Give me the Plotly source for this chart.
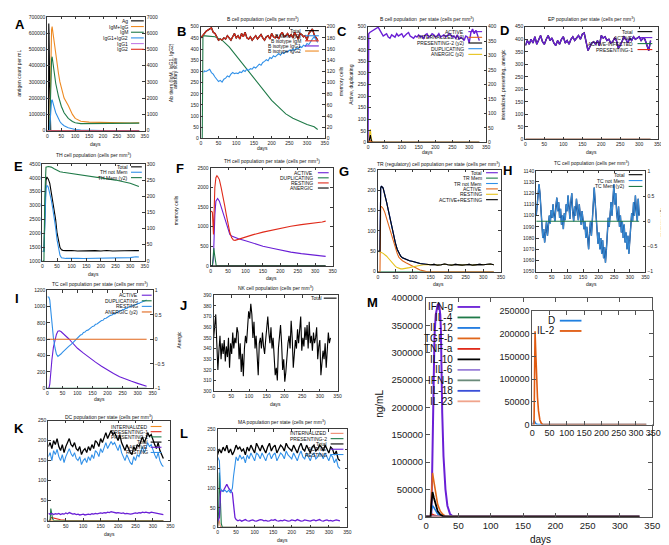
import plotly.graph_objects as go

W, H = 669, 545
FONT = "Liberation Sans, Arial, Helvetica, sans-serif"
FRAME = "#3a3a3a"

BLACK = "#000000"; PURPLE = "#6a1fd6"; GREEN = "#1f7a48"; BLUE = "#3090e8"
RED = "#e02a1a"; ORANGE = "#ee8a22"; YELLOW = "#e6c21a"; VIOLET = "#c27be6"
DORANGE = "#e0661a"


def grid(start, step, vals):
    return [start + step * i for i in range(len(vals))]

# ---------------- DATA ----------------
# A  antigen / antibodies
A_ag_days = [0, 4, 5, 6, 8, 10, 12, 330]
A_ag = [0, 0, 660000, 600000, 300000, 60000, 0, 0]
A_ab_days = [0, 8, 10, 12, 15, 17, 20, 25, 30, 40, 45, 50, 60, 75, 90, 100, 120, 150, 200, 250, 300, 330]
A_igm_igg = [0, 0, 1500, 4500, 6200, 6400, 6000, 5200, 4500, 3500, 3000, 2600, 2000, 1550, 1000, 750, 580, 520, 490, 480, 470, 480]
A_igm = [0, 0, 1200, 3500, 4400, 4550, 4200, 3500, 2900, 2100, 1750, 1500, 1100, 750, 560, 480, 430, 440, 450, 450, 450, 460]
A_igg1_igg2 = [0, 0, 600, 1500, 1850, 1900, 1750, 1400, 1100, 700, 560, 450, 300, 180, 100, 70, 35, 12, 0, 0, 0, 0]
A_flat_days = [0, 330]
A_igg1 = [0, 0]
A_igg2 = [0, 0]

# B  B cell population
B_total = [450, 460, 475, 480, 485, 490, 495, 475, 470, 455, 440, 445, 440, 450, 445, 460, 450, 440, 455, 470,
           450, 460, 445, 470, 455, 475, 450, 445, 455, 440, 450, 460, 445, 455, 465, 450, 440, 455, 460, 445,
           470, 455, 450, 460, 445, 465, 475, 455, 460, 470, 455, 465, 450, 475, 460, 445, 470, 465, 455, 460,
           440, 470, 480, 490, 465, 450, 440]
B_mem_days = [8] + grid(10, 5, [0] * 65)
B_mem = [118, 121, 120, 122, 124, 118, 115, 110, 106, 102, 104, 101, 106, 108, 112, 110, 115, 118, 116, 117,
         116, 119, 118, 122, 120, 124, 122, 125, 124, 128, 126, 130, 133, 131, 136, 138, 141, 139, 145, 143,
         148, 146, 150, 152, 149, 154, 152, 156, 155, 158, 157, 160, 158, 162, 160, 165, 163, 167, 165, 170,
         168, 174, 178, 182, 176, 172]
B_nonmem_days = [0, 4, 6, 10, 20, 40, 60, 80, 100, 120, 140, 160, 180, 200, 220, 240, 260, 280, 300, 320, 330]
B_nonmem = [0, 0, 460, 460, 458, 455, 440, 410, 370, 330, 290, 250, 210, 170, 140, 110, 90, 75, 62, 52, 40]
B_zero_days = [0, 330]
B_igg1 = [0, 0]
B_igg2 = [0, 0]

# C  B cell population per state
C_act_tail = [475, 480, 485, 490, 495, 498, 485, 475, 460, 465, 470, 455, 450, 465, 460, 455, 470, 460, 465, 470,
              455, 465, 470, 475, 460, 455, 450, 460, 455, 465, 455, 460, 450, 465, 470, 455, 460, 470, 465, 455,
              460, 470, 455, 460, 465, 455, 460, 470, 465, 455, 460, 450, 465, 445, 455, 450, 440, 460, 455, 430,
              475, 490, 470, 485, 460, 440]
C_act_days = [0, 2] + grid(5, 5, C_act_tail)
C_act = [0, 470] + C_act_tail
C_sp_days = [0, 3, 5, 7, 9, 12, 330]
C_internalized = [0, 0, 4, 6, 2, 0, 0]
C_presenting2 = [0, 0, 15, 25, 10, 0, 0]
C_duplicating = [0, 0, 10, 6, 2, 0, 0]
C_anergic = [0, 0, 35, 45, 20, 0, 0]

# D  EP population per state
D_active = [375, 395, 380, 400, 385, 410, 380, 395, 415, 390, 380, 400, 415, 395, 405, 385, 375, 395, 380, 400,
            410, 385, 395, 380, 400, 410, 395, 405, 415, 400, 420, 425, 390, 355, 370, 385, 390, 380, 395, 375,
            415, 405, 410, 395, 400, 385, 390, 405, 395, 365, 375, 390, 410, 400, 385, 405, 395, 410, 400, 405,
            410, 395, 405, 400, 380, 355, 395]
D_total = list(D_active)
D_zero_days = [0, 330]
D_infected = [0, 0]
D_presenting1 = [0, 0]

# E  TH cell population
E_days = [0, 5, 8, 10, 12, 15, 18, 20, 25, 30, 35, 40, 45, 50, 55, 60, 65, 70, 80, 90, 100, 120, 140, 160, 180,
          200, 220, 240, 260, 280, 300, 320, 330]
E_total = [1350, 1350, 2500, 3500, 3900, 4030, 4000, 3950, 3800, 3500, 3200, 2900, 2500, 2000, 1700, 1480, 1400,
           1380, 1370, 1360, 1375, 1360, 1370, 1355, 1370, 1360, 1375, 1360, 1370, 1365, 1370, 1375, 1370]
E_notmem = [1350, 1340, 2300, 3200, 3600, 3720, 3700, 3650, 3450, 3200, 2900, 2600, 2200, 1750, 1450, 1200, 1110,
            1095, 1090, 1095, 1085, 1090, 1085, 1090, 1085, 1090, 1095, 1100, 1105, 1110, 1120, 1150, 1140]
E_mem_days = [0, 5, 8, 10, 12, 20, 30, 40, 50, 60, 70, 100, 150, 200, 250, 300, 330]
E_mem = [0, 0, 200, 280, 290, 292, 290, 285, 280, 276, 274, 270, 265, 258, 250, 240, 230]

# F  TH cell population per state
F_act_days = [0, 5, 8, 10, 12, 15, 18, 20, 25, 30, 35, 40, 45, 50, 55, 60, 70, 80, 100, 120, 150, 180, 200, 230, 260, 300, 330]
F_active = [0, 0, 200, 800, 1300, 1650, 1720, 1720, 1650, 1500, 1350, 1200, 1050, 900, 800, 760, 720, 690, 640, 580,
            500, 440, 400, 350, 310, 270, 240]
F_rest_days = [0, 3, 5, 7, 8, 10, 12, 15, 18, 20, 25, 30, 35, 40, 45, 50, 55, 60, 65, 70, 80, 100, 120, 150, 180, 200,
               230, 260, 300, 320, 330]
F_resting = [1380, 1390, 1360, 900, 800, 1400, 2000, 2250, 2300, 2280, 2200, 2000, 1800, 1550, 1300, 1050, 850, 720,
             660, 650, 680, 730, 790, 860, 920, 960, 1010, 1050, 1090, 1120, 1140]
F_dup_days = [0, 5, 7, 9, 11, 13, 16, 330]
F_duplicating = [0, 0, 200, 450, 300, 100, 0, 0]
F_zero_days = [0, 330]
F_anergic = [0, 0]

# G  TR cell population per state
G_tail = [17, 18, 16, 17, 19, 17, 16, 18, 17, 16, 17, 18, 16, 17, 18, 17, 18, 19, 17]
G_head_days = [0, 6, 8, 10, 15, 20, 25, 30, 35, 40, 45, 50, 55, 60, 65, 70, 80, 90, 100, 110, 120, 130, 140]
G_days = G_head_days + grid(150, 10, G_tail)
G_act_rest = [50, 50, 205, 210, 205, 190, 170, 150, 128, 105, 85, 70, 55, 45, 38, 34, 30, 27, 25, 22, 20, 19, 18] + G_tail
G_total = list(G_act_rest)
G_resting = [50, 49, 48, 47, 45, 42, 38, 33, 28, 22, 17, 13, 10, 8, 7, 7, 8, 10, 12, 14, 16, 17, 18] + G_tail
G_act_days = [0, 6, 8, 10, 15, 20, 25, 30, 35, 40, 45, 50, 55, 60, 65, 70, 80, 90, 100, 110, 120, 130, 140, 330]
G_active = [0, 0, 160, 160, 155, 145, 130, 115, 100, 85, 70, 55, 45, 35, 30, 27, 22, 17, 12, 7, 4, 2, 0, 0]
G_zero_days = [0, 330]
G_trmem = [0, 0]

# H  TC cell population
H_notmem = [1100, 1112, 1118, 1128, 1120, 1105, 1092, 1080, 1088, 1076, 1085, 1095, 1082, 1090, 1100, 1093, 1105,
            1098, 1110, 1100, 1095, 1108, 1116, 1104, 1112, 1098, 1106, 1092, 1100, 1088, 1102, 1096, 1110, 1104,
            1118, 1108, 1097, 1112, 1120, 1103, 1095, 1108, 1100, 1115, 1105, 1096, 1110, 1100, 1092, 1104, 1098,
            1088, 1095, 1080, 1090, 1078, 1070, 1085, 1095, 1082, 1098, 1110, 1125, 1112, 1100, 1088, 1075, 1085,
            1070, 1080, 1066, 1078, 1062, 1072, 1058, 1070, 1085, 1098, 1090, 1105, 1112, 1100, 1118, 1128, 1110,
            1120, 1102, 1095, 1108, 1090, 1100, 1085, 1095, 1080, 1092, 1076, 1085, 1070, 1082, 1066, 1078, 1090,
            1102, 1095, 1112, 1100, 1118, 1105, 1095, 1115, 1100]
H_days = grid(0, 3, H_notmem)
H_total = list(H_notmem)
H_mem_days = [0, 330]
H_mem = [0, 0]

# I  TC cell population per state
I_act_days = [0, 5, 8, 10, 15, 20, 25, 30, 35, 40, 45, 50, 60, 70, 80, 90, 100, 120, 140, 160, 180, 200, 220, 240,
              260, 280, 300, 320, 330]
I_active = [0, 0, 50, 150, 350, 500, 600, 660, 700, 705, 695, 680, 650, 610, 570, 530, 490, 430, 370, 320, 270, 220,
            180, 140, 110, 85, 60, 40, 25]
I_rest_tail = [635, 652, 658, 683, 688, 708, 712, 730, 737, 758, 762, 784, 788, 805, 812, 830, 833, 855, 858, 874,
               882, 893, 898, 914, 912, 930, 932, 948, 946, 964, 962, 979, 982, 995, 998, 1010, 1012, 1024, 1026, 1038,
               1040, 1052, 1056, 1066, 1072, 1080]
I_rest_days = [0, 5, 8, 10, 15, 20, 25, 30, 35, 40, 45, 50, 55, 60, 70, 80, 90, 100] + grid(105, 5, I_rest_tail)
I_resting = [1120, 1115, 1080, 1000, 800, 620, 500, 420, 390, 400, 420, 440, 460, 480, 510, 540, 580, 620] + I_rest_tail
I_zero_days = [0, 330]
I_duplicating = [0, 0]
I_anergic = [0, 0]

# J  NK cell population
J_total = [350, 360, 372, 345, 320, 338, 352, 330, 345, 335, 348, 328, 342, 332, 350, 322, 345, 335, 355, 340, 350,
           345, 360, 355, 330, 345, 318, 335, 314, 340, 352, 345, 365, 375, 368, 382, 372, 350, 365, 340, 352, 338,
           315, 345, 350, 340, 355, 342, 335, 348, 360, 370, 355, 345, 360, 340, 350, 328, 315, 322, 310, 340, 355,
           362, 345, 320, 330, 309, 318, 335, 345, 352, 340, 366, 350, 322, 335, 348, 340, 358, 345, 362, 370, 338,
           350, 342, 360, 348, 362, 340, 365, 345, 352, 338, 355, 345, 350, 360, 330, 342, 348, 315, 325, 338, 330,
           345, 322, 338, 355, 345, 350]
J_days = grid(0, 3, J_total)

# K  DC population per state
K_total = [185, 195, 180, 200, 190, 205, 185, 175, 190, 170, 185, 195, 205, 190, 185, 195, 180, 175, 185, 165, 175,
           180, 170, 185, 175, 190, 180, 200, 195, 185, 205, 195, 210, 220, 205, 215, 225, 215, 220, 210, 200, 215,
           195, 185, 175, 190, 180, 170, 165, 185, 175, 190, 185, 200, 210, 195, 205, 220, 210, 215, 200, 190, 180,
           195, 175, 165, 155]
K_resting = [160, 170, 150, 175, 165, 178, 160, 150, 165, 145, 160, 170, 180, 168, 160, 170, 155, 150, 160, 140, 150,
             155, 145, 160, 150, 165, 155, 175, 170, 160, 180, 170, 185, 195, 180, 190, 198, 190, 195, 185, 175, 190,
             170, 160, 150, 165, 155, 145, 140, 160, 150, 165, 160, 175, 185, 170, 180, 195, 185, 190, 175, 165, 155,
             170, 150, 140, 135]
K_active = [18, 16, 18, 15, 17, 16, 18, 15, 17, 16, 19, 17, 20, 18, 16, 17, 15, 16, 14, 15, 16, 14, 15, 16, 15, 17,
            16, 18, 17, 18, 19, 18, 20, 19, 21, 20, 22, 21, 20, 19, 20, 19, 18, 19, 17, 18, 17, 16, 17, 18, 19, 18,
            20, 19, 21, 20, 21, 20, 19, 21, 20, 19, 18, 17, 16, 15, 15]
K_days = grid(0, 5, K_total)
K_int_days = [0, 4, 6, 8, 330]
K_internalized = [0, 0, 4, 0, 0]
K_p1_days = [0, 5, 8, 15, 25, 35, 45, 50, 330]
K_presenting1 = [0, 0, 8, 6, 4, 2, 1, 0, 0]
K_p2_days = [0, 5, 7, 9, 12, 15, 330]
K_presenting2 = [0, 0, 30, 15, 5, 0, 0]

# L  MA population per state
L_total = [185, 200, 190, 205, 195, 210, 190, 200, 185, 195, 210, 200, 205, 195, 200, 185, 205, 195, 210, 200, 190,
           215, 205, 195, 210, 200, 190, 205, 215, 195, 205, 210, 190, 200, 210, 205, 195, 215, 205, 200, 195, 210,
           200, 190, 205, 215, 200, 195, 210, 200, 190, 205, 210, 195, 200, 210, 205, 195, 210, 200, 190, 205, 200,
           185, 195, 175, 170]
L_days = grid(0, 5, L_total)
L_rest_tail = [170, 185, 175, 180, 165, 185, 175, 190, 180, 170, 190, 185, 175, 190, 180, 170, 185, 190, 175, 185,
               190, 170, 180, 190, 185, 175, 195, 185, 180, 175, 190, 180, 170, 185, 195, 180, 175, 190, 180, 170, 185,
               190, 175, 180, 190, 185, 175, 190, 180, 170, 185, 180, 165, 175, 155, 150]
L_act_tail = [17, 19, 16, 18, 20, 17, 16, 18, 19, 17, 16, 18, 20, 19, 17, 18, 16, 17, 19, 18, 20, 17, 16, 18, 17,
              19, 18, 16, 17, 19, 18, 17, 20, 18, 16, 17, 19, 18, 17, 16, 18, 19, 17, 18, 20, 17, 16, 18, 19, 17, 18,
              16, 17, 19, 18, 17]
L_head_days = [0, 5, 8, 10, 15, 20, 25, 30, 35, 40, 43, 47, 50]
L_rest_days = L_head_days + grid(55, 5, L_rest_tail)
L_resting = [180, 170, 100, 95, 92, 95, 90, 95, 88, 100, 130, 170, 180] + L_rest_tail
L_act_days = L_head_days + grid(55, 5, L_act_tail)
L_active = [15, 25, 90, 95, 92, 100, 110, 100, 95, 88, 60, 25, 20] + L_act_tail
L_p2_days = [0, 3, 5, 7, 10, 13, 330]
L_presenting2 = [0, 40, 140, 60, 10, 0, 0]
L_int_days = [0, 2, 4, 7, 10, 330]
L_internalized = [0, 15, 20, 5, 0, 0]

# M  cytokines
M_ifng_days = [0, 8, 9, 10, 11, 12, 13, 15, 18, 20, 22, 23, 24, 25, 27, 30, 33, 37, 42, 330]
M_ifng = [0, 0, 50000, 120000, 200000, 280000, 330000, 370000, 388000, 390000, 370000, 340000, 250000, 190000,
          110000, 50000, 20000, 5000, 0, 0]
M_c_days = [0, 7, 8, 10, 12, 15, 18, 22, 26, 30, 35, 330]
M_tgfb = [0, 0, 30000, 80000, 65000, 40000, 22000, 10000, 4000, 1000, 0, 0]
M_il10 = [0, 0, 20000, 45000, 35000, 20000, 10000, 4000, 1000, 0, 0, 0]
M_il12 = [0, 0, 10000, 20000, 17000, 10000, 5000, 1500, 0, 0, 0, 0]
M_tnfa = [0, 0, 2000, 4000, 3000, 1500, 500, 0, 0, 0, 0, 0]
M_zero_days = [0, 330]
M_il4 = [0, 0]; M_il6 = [0, 0]; M_ifnb = [0, 0]; M_il18 = [0, 0]; M_il23 = [0, 0]
Mi_d_days = [0, 3, 5, 7, 10, 15, 330]
Mi_d = [0, 3000, 9000, 6000, 2000, 0, 0]
Mi_il2_days = [0, 5, 6, 8, 10, 12, 15, 18, 22, 26, 30, 35, 330]
Mi_il2 = [0, 0, 60000, 205000, 160000, 110000, 60000, 30000, 10000, 3000, 0, 0, 0]

# ---------------- FIGURE ----------------
layout = dict(width=W, height=H, margin=dict(l=0, r=0, t=0, b=0), autosize=False,
              paper_bgcolor="white", plot_bgcolor="white", showlegend=False)
traces, annotations, shapes = [], [], []
cnt = {"x": 0, "y": 0}


def new_axis(k):
    cnt[k] += 1
    n = cnt[k]
    return (k if n == 1 else f"{k}{n}"), (f"{k}axis" if n == 1 else f"{k}axis{n}")


def base_axis(fs, tl, color=FRAME, **kw):
    d = dict(showline=True, linecolor=color, linewidth=1, ticks="inside", ticklen=tl, tickcolor=color,
             tickwidth=0.8, showgrid=False, zeroline=False, tickangle=0, fixedrange=True,
             tickfont=dict(size=fs, color="#222", family=FONT))
    d.update(kw)
    return d


def panel(box, xr, xdt, yr, ydt, y2r=None, y2dt=None, fs=5, tl=2.5, color=FRAME):
    x0, y0, x1, y1 = box
    xid, xkey = new_axis("x")
    yid, ykey = new_axis("y")
    layout[xkey] = base_axis(fs, tl, color, domain=[x0 / W, x1 / W], anchor=yid, range=xr, dtick=xdt,
                             tick0=0, mirror="ticks")
    ykw = dict(domain=[1 - y1 / H, 1 - y0 / H], anchor=xid, range=yr, dtick=ydt,
               tick0=yr[0], mirror=(True if y2r else "ticks"))
    if ydt >= 1:
        ykw["tickformat"] = "d"
    layout[ykey] = base_axis(fs, tl, color, **ykw)
    y2id = None
    if y2r:
        y2id, y2key = new_axis("y")
        y2kw = dict(overlaying=yid, side="right", anchor=xid, range=y2r, dtick=y2dt, tick0=y2r[0])
        if y2dt >= 1:
            y2kw["tickformat"] = "d"
        layout[y2key] = base_axis(fs, tl, color, **y2kw)
    return xid, yid, y2id


def line(x, y, xa, ya, color, width=1.1):
    traces.append(go.Scatter(x=x, y=y, xaxis=xa, yaxis=ya, mode="lines",
                             line=dict(color=color, width=width), hoverinfo="skip", showlegend=False))


def text(x, y, s, size=5, anchor="center", angle=0, bold=False, color="#111"):
    annotations.append(dict(x=x / W, y=1 - y / H, xref="paper", yref="paper", text=s, showarrow=False,
                            font=dict(size=size, family=FONT, color=color, weight="bold" if bold else "normal"),
                            xanchor=anchor, yanchor="middle", textangle=angle, borderpad=0))


def legend(entries, xt, xl0, xl1, y0, dy, size=5, width=1.1):
    for i, (lab, col) in enumerate(entries):
        y = y0 + i * dy
        text(xt, y, lab, size=size, anchor="right")
        shapes.append(dict(type="line", xref="paper", yref="paper", x0=xl0 / W, x1=xl1 / W,
                           y0=1 - y / H, y1=1 - y / H, line=dict(color=col, width=width)))


MM = "(cells per mm<sup>3</sup>)"

# ---- A
xa, ya, ya2 = panel((37, 3, 136, 119), [0, 350], 50, [0, 700000], 100000, [0, 7000], 1000)
line(A_ag_days, A_ag, xa, ya, BLACK)
line(A_ab_days, A_igm_igg, xa, ya2, ORANGE)
line(A_ab_days, A_igm, xa, ya2, GREEN)
line(A_ab_days, A_igg1_igg2, xa, ya2, BLUE)
line(A_flat_days, A_igg1, xa, ya2, VIOLET)
line(A_flat_days, A_igg2, xa, ya2, RED)
legend([("Ag", BLACK), ("IgM+IgG", ORANGE), ("IgM", GREEN), ("IgG1+IgG2", BLUE), ("IgG1", VIOLET), ("IgG2", RED)],
       120, 122, 135, 7, 5.8)
text(86, 133, "days")
text(8, 60, "antigen count per mL", angle=-90)
text(162, 60, "Ab titers (IgM, IgG1, IgG2)", angle=-90)
text(167, 60, "arbitrary scale", angle=-90)
text(9, 11, "A", size=13, bold=True, color="#000")

# ---- B
xa, ya, ya2 = panel((193, 13, 319, 127), [0, 350], 50, [0, 500], 50, [0, 200], 20)
line(grid(0, 5, B_total), B_total, xa, ya, BLACK, 1.4)
line(B_mem_days[:len(B_mem)], B_mem, xa, ya2, BLUE)
line(B_nonmem_days, B_nonmem, xa, ya, GREEN)
line(grid(0, 5, B_total), B_total, xa, ya, RED)
line(B_zero_days, B_igg1, xa, ya, PURPLE)
line(B_zero_days, B_igg2, xa, ya, ORANGE)
legend([("Total", BLACK), ("B Mem (y2)", BLUE), ("B isotype IgM", RED), ("B isotype IgG1", PURPLE),
        ("B isotype IgG2", ORANGE)], 296, 299, 313, 17, 5.2)
text(256, 5, "B cell population " + MM)
text(256, 137, "days")
text(335, 68, "memory cells", angle=-90)
text(173, 18, "B", size=13, bold=True, color="#000")

# ---- C
xa, ya, ya2 = panel((363, 13, 483, 131), [0, 350], 50, [0, 500], 50, [0, 400], 50)
line(C_sp_days, C_duplicating, xa, ya, BLUE)
line(C_sp_days, C_anergic, xa, ya2, YELLOW)
line(C_sp_days, C_presenting2, xa, ya2, BLACK)
line(C_sp_days, C_internalized, xa, ya2, DORANGE)
line(C_act_days, C_act, xa, ya, PURPLE, 1.4)
legend([("ACTIVE", PURPLE), ("INTERNALIZED (y2)", DORANGE), ("PRESENTING-2 (y2)", BLACK),
        ("DUPLICATING", BLUE), ("ANERGIC (y2)", YELLOW)], 462, 465, 479, 18, 5.8)
text(423, 5, "B cell population  per state " + MM)
text(423, 141, "days")
text(345, 72, "Active, duplicating", angle=-90)
text(500, 72, "internalized, presenting, anergic", angle=-90)
text(337, 18, "C", size=13, bold=True, color="#000")

# ---- D
xa, ya, _ = panel((523, 13, 658, 128), [0, 350], 50, [0, 450], 50)
line(grid(0, 5, D_total), D_total, xa, ya, BLACK, 1.4)
line(D_zero_days, D_infected, xa, ya, GREEN)
line(D_zero_days, D_presenting1, xa, ya, RED)
line(grid(0, 5, D_active), D_active, xa, ya, PURPLE, 1.3)
legend([("Total", BLACK), ("ACTIVE", PURPLE), ("ACTIVE-INFECTED", GREEN), ("PRESENTING-1", RED)],
       633, 637, 652, 18, 6.1)
text(590, 5, "EP population per state " + MM)
text(590, 141, "days")
text(502, 17, "D", size=13, bold=True, color="#000")

# ---- E
xa, ya, ya2 = panel((32, 153, 136, 252), [0, 350], 50, [1000, 4500], 500, [0, 300], 50)
line(E_days, E_total, xa, ya, BLACK)
line(E_days, E_notmem, xa, ya, BLUE)
line(E_mem_days, E_mem, xa, ya2, GREEN)
legend([("Total", BLACK), ("TH not Mem", BLUE), ("TH Mem (y2)", GREEN)], 120, 122, 133, 156, 5.5)
text(84, 144, "TH cell population " + MM)
text(84, 265, "days")
text(168, 200, "memory cells", angle=-90)
text(8, 156, "E", size=13, bold=True, color="#000")

# ---- F
xa, ya, _ = panel((203, 157, 327, 257), [0, 350], 50, [0, 2500], 500)
line(F_act_days, F_active, xa, ya, PURPLE)
line(F_dup_days, F_duplicating, xa, ya, GREEN)
line(F_rest_days, F_resting, xa, ya, RED)
line(F_zero_days, F_anergic, xa, ya, BLACK)
legend([("ACTIVE", PURPLE), ("DUPLICATING", GREEN), ("RESTING", RED), ("ANERGIC", BLACK)], 308, 312, 323, 162, 5.2)
text(265, 150, "TH cell population per state " + MM)
text(265, 269, "days")
text(172, 158, "F", size=13, bold=True, color="#000")

# ---- G
xa, ya, _ = panel((373, 159, 498, 263), [0, 350], 50, [0, 250], 50)
line(G_days, G_total, xa, ya, PURPLE)
line(G_zero_days, G_trmem, xa, ya, GREEN)
line(G_days, G_total, xa, ya, BLUE)
line(G_act_days, G_active, xa, ya, DORANGE)
line(G_days, G_resting, xa, ya, YELLOW)
line(G_days, G_act_rest, xa, ya, BLACK)
legend([("Total", PURPLE), ("TR Mem", GREEN), ("TR not Mem", BLUE), ("ACTIVE", DORANGE), ("RESTING", YELLOW),
        ("ACTIVE+RESTING", BLACK)], 480, 483, 495, 162, 5.5)
text(435, 153, "TR (regulatory) cell population per state " + MM)
text(435, 276, "days")
text(339, 161, "G", size=13, bold=True, color="#000")

# ---- H
xa, ya, ya2 = panel((534, 160, 645, 263), [0, 350], 50, [1050, 1140], 10, [-1, 1], 0.5)
line(H_days, H_total, xa, ya, "#0a2a6a", 1.4)
line(H_days, H_notmem, xa, ya, "#3a8fd8", 1.0)
line(H_mem_days, H_mem, xa, ya2, GREEN)
legend([("Total", BLACK), ("TC not Mem", BLUE), ("TC Mem (y2)", GREEN)], 625, 628, 642, 164, 6)
text(590, 152, "TC cell population " + MM)
text(590, 276, "days")
text(662, 212, "memory cells", angle=-90)
text(505, 160, "H", size=13, bold=True, color="#000")

# ---- I
xa, ya, ya2 = panel((37, 282, 144, 382), [0, 350], 50, [0, 1200], 200, [-1, 1], 0.5)
line(I_act_days, I_active, xa, ya, PURPLE)
line(I_zero_days, I_duplicating, xa, ya, GREEN)
line(I_rest_days, I_resting, xa, ya, BLUE)
line(I_zero_days, I_anergic, xa, ya2, DORANGE)
legend([("ACTIVE", PURPLE), ("DUPLICATING", GREEN), ("RESTING", BLUE), ("ANERGIC (y2)", DORANGE)],
       130, 133, 143, 287, 5.7)
text(90, 276, "TC cell population per state " + MM)
text(90, 393, "days")
text(171, 333, "Anergic", angle=-90)
text(6, 290, "I", size=13, bold=True, color="#000")

# ---- J
xa, ya, ya2 = panel((206, 287, 332, 385), [0, 350], 50, [300, 390], 10, [300, 390], 10)
line(J_days, J_total, xa, ya, BLACK)
legend([("Total", BLACK)], 317, 318, 331, 290, 6)
text(269, 280, "NK cell population " + MM)
text(269, 398, "days")
text(175, 297, "J", size=13, bold=True, color="#000")

# ---- K
xa, ya, _ = panel((38, 415, 162, 517), [0, 350], 50, [0, 250], 50)
line(K_int_days, K_internalized, xa, ya, ORANGE)
line(K_p1_days, K_presenting1, xa, ya, RED)
line(K_p2_days, K_presenting2, xa, ya, GREEN)
line(K_days, K_total, xa, ya, BLACK, 1.3)
line(K_days, K_active, xa, ya, PURPLE, 1.3)
line(K_days, K_resting, xa, ya, BLUE)
legend([("INTERNALIZED", ORANGE), ("PRESENTING-1", RED), ("PRESENTING-2", GREEN), ("Total", BLACK),
        ("ACTIVE", PURPLE), ("RESTING", BLUE)], 140, 142, 153, 421, 5.3)
text(100, 411, "DC population per state " + MM)
text(100, 531, "days")
text(8, 423, "K", size=13, bold=True, color="#000")

# ---- L
xa, ya, _ = panel((210, 424, 342, 524), [0, 350], 50, [0, 250], 50)
line(L_int_days, L_internalized, xa, ya, "#f08a70")
line(L_p2_days, L_presenting2, xa, ya, GREEN)
line(L_days, L_total, xa, ya, BLACK, 1.3)
line(L_act_days, L_active, xa, ya, PURPLE, 1.3)
line(L_rest_days, L_resting, xa, ya, BLUE)
legend([("INTERNALIZED", "#f08a70"), ("PRESENTING-2", GREEN), ("Total", BLACK), ("ACTIVE", PURPLE),
        ("RESTING", BLUE)], 322, 325, 338, 428, 5.4)
text(276, 416, "MA population per state " + MM)
text(276, 537, "days")
text(176, 428, "L", size=13, bold=True, color="#000")

# ---- M
MC = "#555555"
xa, ya, _ = panel((422, 290, 652, 513), [0, 350], 50, [0, 400000], 50000, fs=9.5, tl=4, color=MC)
M_series = [("IFN-g", PURPLE, M_ifng_days, M_ifng), ("IL-4", GREEN, M_zero_days, M_il4),
            ("IL-12", "#1f7ae0", M_c_days, M_il12), ("TGF-b", DORANGE, M_c_days, M_tgfb),
            ("TNF-a", RED, M_c_days, M_tnfa), ("IL-10", BLACK, M_c_days, M_il10),
            ("IL-6", "#9a7fd8", M_zero_days, M_il6), ("IFN-b", "#6a8a7a", M_zero_days, M_ifnb),
            ("IL-18", "#3a4fd8", M_zero_days, M_il18), ("IL-23", "#f0a48c", M_zero_days, M_il23)]
line(M_ifng_days, M_ifng, xa, ya, PURPLE, 2)
for lab, col, dd, vv in M_series[1:]:
    if lab != "IL-10":
        line(dd, vv, xa, ya, col, 1.6)
line(M_c_days, M_il10, xa, ya, BLACK, 1.8)
legend([(s[0], s[1]) for s in M_series], 450, 454, 477, 299, 10.7, size=10, width=1.8)
text(375, 398, "ng/mL", size=10, angle=-90)
text(538, 536, "days", size=10)
text(368, 294, "M", size=13, bold=True, color="#000")

# inset
xa, ya, _ = panel((530, 303, 653, 419), [0, 350], 50, [0, 250000], 50000, fs=9, tl=4, color=MC)
line(Mi_d_days, Mi_d, xa, ya, "#2080e0", 1.6)
line(Mi_il2_days, Mi_il2, xa, ya, "#e05a10", 1.6)
legend([("D", "#2080e0"), ("IL-2", "#e05a10")], 554, 558, 580, 313, 10.5, size=10, width=1.8)

layout["annotations"] = annotations
layout["shapes"] = shapes
fig = go.Figure(data=traces, layout=layout)
fig.write_html("out.html")
